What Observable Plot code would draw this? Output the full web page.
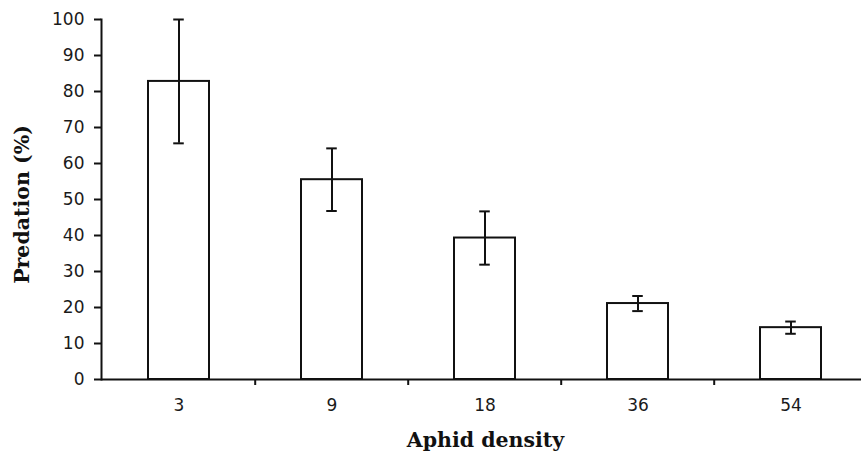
<!DOCTYPE html>
<html><head><meta charset="utf-8">
<script src="https://cdn.jsdelivr.net/npm/d3@7"></script>
<script src="https://cdn.jsdelivr.net/npm/@observablehq/plot@0.6"></script>
<style>html,body{margin:0;padding:0;background:#fff;overflow:hidden}</style>
</head><body><div id="chart"></div>
<script>
const densities = ["3", "9", "18", "36", "54"];
const predation = [82.8, 55.5, 39.3, 21.1, 14.4];
const errors = [17.2, 8.7, 7.4, 2.1, 1.7];
const yTicks = [0, 10, 20, 30, 40, 50, 60, 70, 80, 90, 100];
const xTitle = "Aphid density";
const yTitle = "Predation (%)";

const data = densities.map((d, i) => ({
  density: d, value: predation[i], lo: predation[i] - errors[i], hi: predation[i] + errors[i]
}));

const W = 861, H = 462, mL = 101, mR = -8, mT = 19, mB = 83;
const pInner = 0.6, pOuter = 0.3;
const step = (W - mL - mR) / (densities.length - pInner + 2 * pOuter);
const bw = step * (1 - pInner);
const capW = 11;
const capInset = (bw - capW) / 2;
const titleFont = {fontFamily: "DejaVu Serif", fontWeight: "bold", fontSize: 20.5, fill: "#111", textAnchor: "middle", lineAnchor: "middle"};

const chart = Plot.plot({
  width: W, height: H,
  marginLeft: mL, marginRight: mR, marginTop: mT, marginBottom: mB,
  style: {fontFamily: "DejaVu Sans", fontSize: "17px", color: "#1a1a1a", background: "#fff", overflow: "visible"},
  x: {domain: densities, paddingInner: pInner, paddingOuter: pOuter, label: null},
  y: {domain: [0, 100], label: null},
  marks: [
    Plot.barY(data, {x: "density", y: "value", fill: "#fff", stroke: "#111", strokeWidth: 2}),
    Plot.ruleX(data, {x: "density", y1: "lo", y2: "hi", stroke: "#111", strokeWidth: 2}),
    Plot.tickY(data, {x: "density", y: "hi", insetLeft: capInset, insetRight: capInset, stroke: "#111", strokeWidth: 2}),
    Plot.tickY(data, {x: "density", y: "lo", insetLeft: capInset, insetRight: capInset, stroke: "#111", strokeWidth: 2}),
    Plot.ruleY([0], {stroke: "#111", strokeWidth: 2}),
    Plot.frame({anchor: "left", stroke: "#111", strokeWidth: 2}),
    Plot.ruleX(densities.slice(1), {x: d => d, dx: -step / 2, y1: 0, y2: 0, insetBottom: -6, stroke: "#111", strokeWidth: 2}),
    Plot.axisY({ticks: yTicks, tickSize: 7, tickPadding: 10, strokeWidth: 2, stroke: "#111", label: null}),
    Plot.axisX({tickSize: 0, tickPadding: 19, label: null}),
    Plot.text([xTitle], {text: d => d, frameAnchor: "bottom", dy: 61, ...titleFont}),
    Plot.text([yTitle], {text: d => d, frameAnchor: "left", rotate: -90, dx: -79, dy: 5, ...titleFont})
  ]
});
document.getElementById("chart").appendChild(chart);
</script>
</body></html>
